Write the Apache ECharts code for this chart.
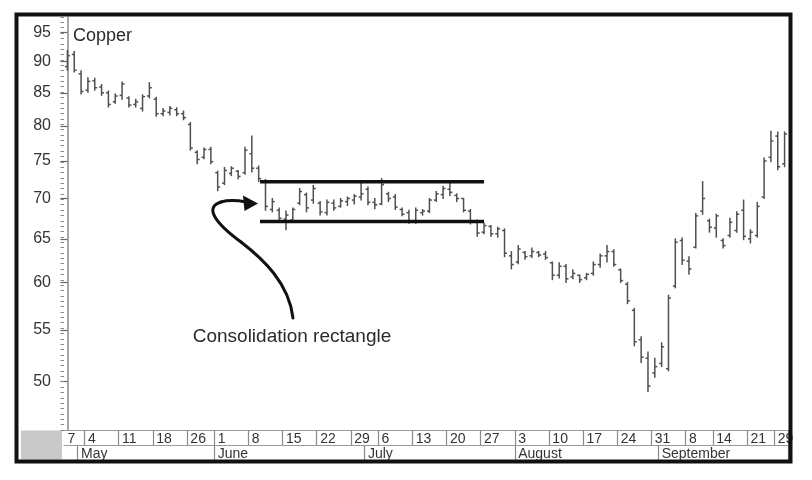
<!DOCTYPE html>
<html><head><meta charset="utf-8">
<script src="https://cdn.jsdelivr.net/npm/echarts@6/dist/echarts.min.js"></script>
<style>html,body{margin:0;padding:0;background:#fff}#c{width:812px;height:480px}</style>
</head><body><div id="c"></div>
<script>
// ---- data (copper, daily open / high / low / close) ----
const opens  = [89.2,91.2,88.0,85.4,86.9,85.9,85.0,83.6,84.6,84.2,83.2,82.6,84.5,84.0,81.8,82.0,82.4,81.8,80.2,76.2,
  75.5,76.6,73.4,72.0,73.3,73.6,73.4,76.0,74.0,72.3,68.6,68.5,67.4,67.3,69.4,70.5,69.8,69.4,68.2,69.4,
  69.0,69.6,69.8,70.2,71.2,69.5,69.3,70.6,70.2,68.6,68.2,67.1,68.2,68.4,69.8,70.5,71.2,70.4,70.0,68.4,
  67.0,65.8,66.5,65.6,66.0,63.0,62.3,63.4,63.0,63.4,63.2,62.2,60.8,61.8,60.6,60.8,60.5,61.0,62.0,63.0,
  63.5,61.4,59.8,57.0,54.0,52.2,50.8,51.7,51.2,59.6,64.8,62.4,64.0,68.4,67.2,66.3,64.8,65.4,66.0,68.5,
  65.0,65.4,70.2,75.5,78.5,74.6];
const highs  = [91.9,91.7,88.5,87.4,87.3,86.3,85.3,84.8,86.7,84.4,84.0,84.7,86.6,84.3,82.6,82.9,82.7,82.2,80.5,76.4,
  76.8,76.9,73.6,74.1,74.2,73.7,76.9,78.5,74.3,72.5,70.0,68.8,68.4,68.8,71.3,70.7,71.7,69.6,69.8,69.8,
  70.0,70.2,70.5,72.0,71.5,70.0,72.6,70.8,70.5,68.8,68.5,68.8,68.6,70.0,70.9,71.6,72.0,70.6,70.0,68.6,
  67.3,66.9,66.6,66.4,66.2,63.5,64.2,63.5,63.9,63.5,63.5,62.3,62.2,62.0,61.4,60.8,61.0,62.3,63.2,64.2,
  63.7,61.5,60.0,57.2,54.3,52.8,52.2,53.7,58.6,65.0,65.1,62.9,68.1,72.2,67.4,68.0,65.0,67.5,68.3,69.8,
  66.1,69.5,75.4,79.2,79.1,79.1];
const lows   = [88.6,88.3,84.8,85.1,85.4,84.6,82.8,83.4,84.0,82.8,82.8,82.2,84.2,81.4,81.5,81.6,81.5,80.9,76.5,74.6,
  75.3,74.6,71.0,71.8,73.0,72.6,73.2,73.5,72.2,68.5,68.3,67.2,66.1,67.0,69.2,68.3,69.4,67.9,67.9,68.5,
  68.9,69.1,69.3,69.8,69.2,68.7,69.2,69.6,68.6,67.8,66.9,66.9,67.9,68.2,69.6,70.0,70.4,69.6,68.3,66.8,
  65.3,65.6,65.3,65.2,62.9,61.5,62.1,62.6,62.8,62.9,62.6,60.3,60.5,60.0,60.4,60.0,60.3,60.8,61.7,62.3,
  61.8,60.0,57.7,53.4,51.8,49.1,50.4,51.4,51.0,59.4,62.0,60.9,63.9,68.0,65.8,65.2,63.9,65.2,65.8,64.9,
  64.5,65.2,70.0,74.9,73.8,74.2];
const closes = [91.0,88.6,85.2,86.8,85.8,85.0,83.2,84.5,86.4,83.1,83.6,84.4,85.8,81.8,82.2,82.6,81.8,81.2,76.8,75.2,
  76.6,74.9,71.5,73.7,74.0,72.9,76.5,74.0,72.6,69.0,69.6,67.5,67.9,68.6,70.9,68.8,71.3,68.3,69.5,68.8,
  69.7,70.0,70.3,70.6,69.5,69.2,71.8,70.0,68.9,68.0,67.2,68.5,68.4,69.8,70.6,71.3,70.8,70.0,68.5,67.0,
  65.7,66.6,65.6,66.2,63.3,62.0,63.8,62.9,63.5,63.1,62.8,60.8,61.8,60.4,61.0,60.3,60.9,62.0,63.0,63.5,
  62.0,60.2,58.0,53.8,52.3,49.6,51.4,53.3,58.3,64.6,62.5,61.5,67.8,70.0,66.4,67.8,64.2,67.0,68.0,65.3,
  65.8,69.0,75.0,77.8,74.2,78.8];
const categories = opens.map((_, i) => String(i));   // one slot per trading day

// week-start day numbers (index of the trading day, text shown)
const weekIdx  = [0, 3, 8, 13, 18, 22, 27, 32, 37, 42, 46, 51, 56, 61, 66, 71, 76, 81, 86, 91, 95, 100, 104];
const weekText = ['7','4','11','18','26','1','8','15','22','29','6','13','20','27','3','10','17','24','31','8','14','21','29'];
const monthIdx  = [2, 22, 44, 66, 87];
const monthText = ['May', 'June', 'July', 'August', 'September'];
const yTicks = [50, 55, 60, 65, 70, 75, 80, 85, 90, 95];
const yMin = 45.75, yMax = 97.7;
// consolidation rectangle: price levels and start / end (trading-day index)
const rectTop = 72.2, rectBottom = 67.1, rectFrom = 28.2, rectTo = 61.0;

// ---- chart ----
const FONT = 'Liberation Sans, Arial, Helvetica, sans-serif';
const weekMap = {}; weekIdx.forEach((d, k) => weekMap[d] = weekText[k]);
const monthMap = {}; monthIdx.forEach((d, k) => monthMap[d] = monthText[k]);
const ln = Math.log;

const barData = opens.map((o, i) => [i, ln(o), ln(highs[i]), ln(lows[i]), ln(closes[i])]);
const arrowStyle = {fill: 'none', stroke: '#111', lineWidth: 3, lineCap: 'round'};

const chart = echarts.init(document.getElementById('c'), null, {renderer: 'canvas'});
chart.setOption({
  animation: false,
  backgroundColor: '#fff',
  textStyle: {fontFamily: FONT},
  title: {text: 'Copper', left: 68, top: 22,
    textStyle: {fontSize: 18, fontWeight: 'normal', color: '#2a2a2a', fontFamily: FONT}},
  grid: {left: 64, right: 24, top: 17, bottom: 50, containLabel: false},
  xAxis: [
    {type: 'category', data: categories, boundaryGap: true, position: 'bottom',
      axisLine: {show: true, lineStyle: {color: '#9a9a9a', width: 1.2}},
      axisTick: {show: true, length: 15, interval: (i) => weekMap[i] !== undefined && i !== 0,
        lineStyle: {color: '#8a8a8a', width: 1.2}},
      axisLabel: {interval: (i) => weekMap[i] !== undefined, formatter: (v, i) => weekMap[i] || '',
        align: 'left', margin: 2, fontSize: 14, color: '#333', fontFamily: FONT},
      splitLine: {show: false}},
    {type: 'category', data: categories, boundaryGap: true, position: 'bottom', offset: 15,
      axisLine: {show: true, lineStyle: {color: '#9a9a9a', width: 1.2}},
      axisTick: {show: true, length: 15, interval: (i) => monthMap[i] !== undefined,
        lineStyle: {color: '#8a8a8a', width: 1.2}},
      axisLabel: {interval: (i) => monthMap[i] !== undefined, formatter: (v, i) => monthMap[i] || '',
        align: 'left', margin: 2, fontSize: 14, color: '#333', fontFamily: FONT},
      splitLine: {show: false}},
    {type: 'value', min: -0.5, max: opens.length - 0.5, show: false}
  ],
  yAxis: [
    {type: 'value', min: ln(yMin), max: ln(yMax), position: 'left',
      axisLine: {show: true, lineStyle: {color: '#8a8a8a', width: 1.5}},
      axisTick: {show: true, length: 7, customValues: yTicks.map(ln), lineStyle: {color: '#666', width: 1.2}},
      axisLabel: {customValues: yTicks.map(ln), formatter: (v) => String(Math.round(Math.exp(v))),
        margin: 13, fontSize: 16, color: '#333', fontFamily: FONT},
      splitLine: {show: false}},
    {type: 'value', min: 3.82, max: 4.59, interval: 0.01, position: 'left',
      axisLine: {show: false}, axisLabel: {show: false}, splitLine: {show: false},
      axisTick: {show: true, length: 3.5, lineStyle: {color: '#8a8a8a', width: 1}}}
  ],
  series: [
    {type: 'custom', xAxisIndex: 0, yAxisIndex: 0, data: barData, clip: true,
      encode: {x: 0, y: [1, 2, 3, 4]},
      renderItem: (params, api) => {
        const i = api.value(0);
        const pO = api.coord([i, api.value(1)]);
        const pH = api.coord([i, api.value(2)]);
        const pL = api.coord([i, api.value(3)]);
        const pC = api.coord([i, api.value(4)]);
        const w = api.size([1, 0])[0] * 0.36;
        const style = {stroke: '#505050', lineWidth: 1.5};
        return {type: 'group', children: [
          {type: 'line', shape: {x1: pH[0], y1: pH[1] - 0.5, x2: pL[0], y2: pL[1] + 0.5}, style},
          {type: 'line', shape: {x1: pO[0] - w, y1: pO[1], x2: pO[0], y2: pO[1]}, style},
          {type: 'line', shape: {x1: pC[0], y1: pC[1], x2: pC[0] + w, y2: pC[1]}, style}
        ]};
      }},
    {type: 'line', xAxisIndex: 2, yAxisIndex: 0, symbol: 'none', silent: true,
      lineStyle: {color: '#111', width: 3.5}, data: [[rectFrom, ln(rectTop)], [rectTo, ln(rectTop)]]},
    {type: 'line', xAxisIndex: 2, yAxisIndex: 0, symbol: 'none', silent: true,
      lineStyle: {color: '#111', width: 3.5}, data: [[rectFrom, ln(rectBottom)], [rectTo, ln(rectBottom)]]}
  ],
  graphic: [
    {type: 'rect', z: -1, shape: {x: 21, y: 430.5, width: 41, height: 29}, style: {fill: '#c9c9c9'}},
    {type: 'rect', z: 100, shape: {x: 16.5, y: 14.5, width: 774, height: 447},
      style: {fill: 'none', stroke: '#111', lineWidth: 4}},
    {type: 'bezierCurve', z: 50, shape: {x1: 293, y1: 318, cpx1: 289, cpy1: 283, cpx2: 263, cpy2: 259, x2: 241, y2: 242}, style: arrowStyle},
    {type: 'bezierCurve', z: 50, shape: {x1: 241, y1: 242, cpx1: 215, cpy1: 223, cpx2: 204, cpy2: 207, x2: 221, y2: 202}, style: arrowStyle},
    {type: 'bezierCurve', z: 50, shape: {x1: 221, y1: 202, cpx1: 230, cpy1: 199.5, cpx2: 238, cpy2: 200.5, x2: 246, y2: 202}, style: arrowStyle},
    {type: 'polygon', z: 50, shape: {points: [[258, 203.5], [243, 195.5], [244.5, 211]]}, style: {fill: '#111'}},
    {type: 'text', z: 50, x: 292, y: 337, style: {text: 'Consolidation rectangle', font: '19px ' + FONT,
      fill: '#2a2a2a', align: 'center', verticalAlign: 'middle'}}
  ]
});
</script>
</body></html>
